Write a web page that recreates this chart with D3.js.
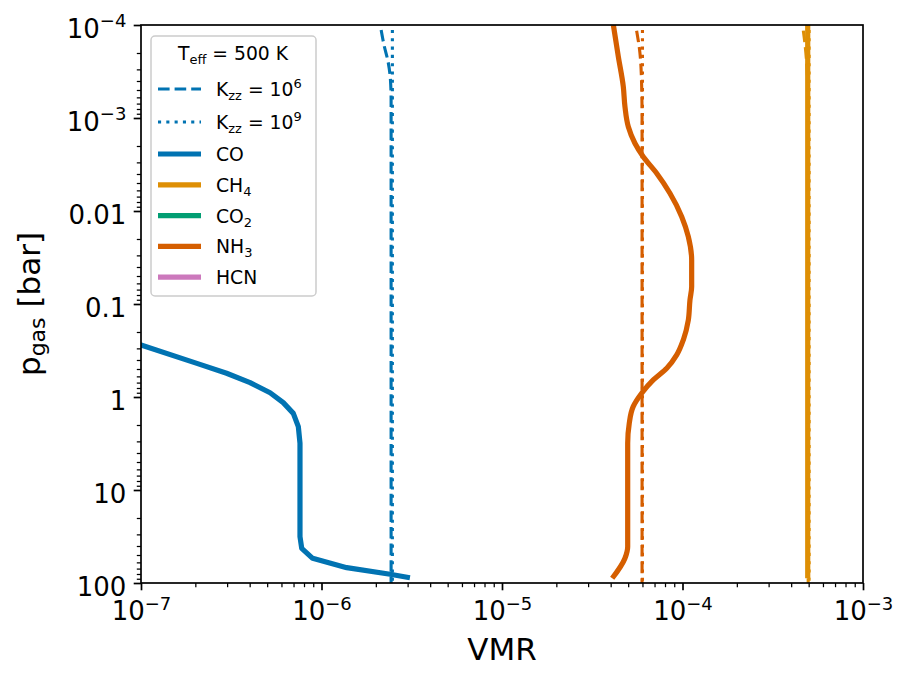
<!DOCTYPE html>
<html>
<head>
<meta charset="utf-8">
<script src="https://cdn.jsdelivr.net/npm/d3@7"></script>
<style>
  body { margin: 0; background: #fff; }
  text { font-family: "DejaVu Sans", sans-serif; fill: #000; }
</style>
</head>
<body>
<svg id="chart" width="909" height="680"></svg>
<script>
// ---- data (pressure in bar, VMR) ----
const pCO   = [0.143, 0.276, 0.435, 0.556, 0.70, 0.90, 1.15, 1.50, 2.08, 3.15, 31.8, 42.4, 54.3, 68.4, 80.5, 87.7];
const vmrCO = [3.56e-8, 1.0e-7, 2.04e-7, 2.98e-7, 4.02e-7, 5.19e-7, 6.14e-7, 6.98e-7, 7.44e-7, 7.60e-7, 7.60e-7, 7.77e-7, 8.93e-7, 1.38e-6, 2.40e-6, 3.09e-6];

const pNH3   = [1.0e-4, 2.19e-4, 4.61e-4, 7.56e-4, 1.24e-3, 1.87e-3, 2.61e-3, 3.93e-3, 6.45e-3, 0.0115, 0.0189, 0.0336, 0.0652, 0.0906, 0.149, 0.244, 0.353, 0.491, 0.656, 0.912, 1.27, 1.92, 3.15, 40.7, 54.2, 89.0];
const vmrNH3 = [4.14e-5, 4.41e-5, 4.70e-5, 4.80e-5, 5.01e-5, 5.45e-5, 6.06e-5, 7.19e-5, 8.52e-5, 9.90e-5, 1.077e-4, 1.124e-4, 1.124e-4, 1.10e-4, 1.077e-4, 1.01e-4, 9.29e-5, 8.18e-5, 6.89e-5, 5.94e-5, 5.33e-5, 5.07e-5, 4.97e-5, 4.97e-5, 4.80e-5, 4.08e-5];

const pCH4   = [1.0e-4, 89.0];
const vmrCH4 = [4.94e-4, 4.94e-4];

// quenched profiles, Kzz = 1e6 (dashed) and 1e9 (dotted)
const pCOk6   = [1.13e-4, 1.64e-4, 2.50e-4, 3.90e-4, 6.4e-4, 100];
const vmrCOk6 = [2.14e-6, 2.22e-6, 2.34e-6, 2.41e-6, 2.43e-6, 2.43e-6];
const pCOk9   = [1.13e-4, 100];
const vmrCOk9 = [2.47e-6, 2.47e-6];

const pNH3k6   = [1.15e-4, 2.0e-4, 4.6e-4, 1.0e-3, 100];
const vmrNH3k6 = [5.57e-5, 5.81e-5, 5.94e-5, 5.97e-5, 5.97e-5];
const pNH3k9   = [1.13e-4, 100];
const vmrNH3k9 = [6.0e-5, 6.0e-5];

const pCH4k6   = [1.15e-4, 1.6e-4, 3.0e-4, 6.0e-4, 100];
const vmrCH4k6 = [4.67e-4, 4.77e-4, 4.90e-4, 4.95e-4, 4.97e-4];
const pCH4k9   = [1.13e-4, 100];
const vmrCH4k9 = [5.03e-4, 5.03e-4];

const species = ["CO", "CH4", "CO2", "NH3", "HCN"];
const colors  = ["#0173B2", "#DE8F05", "#029E73", "#D55E00", "#CC78BC"];

const xTickExp = [-7, -6, -5, -4, -3];
const yTicks = [1e-4, 1e-3, 0.01, 0.1, 1, 10, 100];
const yTickLabels = [["10", "−4"], ["10", "−3"], ["0.01"], ["0.1"], ["1"], ["10"], ["100"]];

// ---- layout ----
const plotL = 141, plotR = 863, plotT = 25, plotB = 583;
const svg = d3.select("#chart");

const x = d3.scaleLog().domain([1e-7, 1e-3]).range([plotL, plotR]);
const y = d3.scaleLog().domain([1e-4, 100]).range([plotT, plotB]);

svg.append("defs").append("clipPath").attr("id", "plotclip")
  .append("rect")
  .attr("x", plotL).attr("y", plotT)
  .attr("width", plotR - plotL).attr("height", plotB - plotT);

const zip = (ps, vs) => ps.map((p, i) => ({ p: p, v: vs[i] }));

const smooth = d3.line()
  .x(d => x(d.v))
  .y(d => y(d.p))
  .curve(d3.curveMonotoneY);
const straight = d3.line()
  .x(d => x(d.v))
  .y(d => y(d.p));

const plot = svg.append("g").attr("clip-path", "url(#plotclip)");

const SOLID_W = 5.2, THIN_W = 3.1;
const DASH = "11.6,5", DOT = "3.1,5.2";

const profiles = [
  { data: zip(pCO, vmrCO), color: colors[0], line: straight },
  { data: zip(pCH4, vmrCH4), color: colors[1], line: straight },
  { data: zip(pNH3, vmrNH3), color: colors[3], line: smooth }
];
const quenched = [
  { data: zip(pCOk6, vmrCOk6), color: colors[0], dash: DASH },
  { data: zip(pCOk9, vmrCOk9), color: colors[0], dash: DOT },
  { data: zip(pCH4k6, vmrCH4k6), color: colors[1], dash: DASH },
  { data: zip(pCH4k9, vmrCH4k9), color: colors[1], dash: DOT },
  { data: zip(pNH3k6, vmrNH3k6), color: colors[3], dash: DASH },
  { data: zip(pNH3k9, vmrNH3k9), color: colors[3], dash: DOT }
];

plot.selectAll("path.profile").data(profiles).enter().append("path")
  .attr("class", "profile")
  .attr("d", d => d.line(d.data))
  .attr("fill", "none")
  .attr("stroke", d => d.color)
  .attr("stroke-width", SOLID_W)
  .attr("stroke-linejoin", "round");

plot.selectAll("path.quench").data(quenched).enter().append("path")
  .attr("class", "quench")
  .attr("d", d => smooth(d.data))
  .attr("fill", "none")
  .attr("stroke", d => d.color)
  .attr("stroke-width", THIN_W)
  .attr("stroke-dasharray", d => d.dash);

// ---- axes ----
const TICK_FONT = 26, SUP_FONT = 18;
const majorX = xTickExp.map(e => Math.pow(10, e));
const minorX = x.ticks().filter(t => !majorX.some(m => Math.abs(m - t) / m < 1e-6));
const minorY = y.ticks().filter(t => !yTicks.some(m => Math.abs(m - t) / m < 1e-6));

function styleAxis(g, w) {
  g.select(".domain").remove();
  g.selectAll(".tick line").attr("stroke", "#000").attr("stroke-width", w);
}

svg.append("g").attr("transform", `translate(0,${plotB})`)
  .call(d3.axisBottom(x).tickValues(minorX).tickSize(4.2).tickFormat(""))
  .call(g => styleAxis(g, 1.25));
svg.append("g").attr("transform", `translate(${plotL},0)`)
  .call(d3.axisLeft(y).tickValues(minorY).tickSize(4.2).tickFormat(""))
  .call(g => styleAxis(g, 1.25));

const xAxis = svg.append("g").attr("transform", `translate(0,${plotB})`)
  .call(d3.axisBottom(x).tickValues(majorX).tickSize(7.3).tickFormat(""))
  .call(g => styleAxis(g, 1.7));

xAxis.selectAll(".tick text")
  .attr("y", 37).attr("dy", null)
  .attr("font-size", TICK_FONT)
  .attr("text-anchor", "middle")
  .attr("fill", "#000")
  .each(function (d, i) {
    const t = d3.select(this);
    t.append("tspan").text("10");
    t.append("tspan").attr("dy", -10.5).attr("font-size", SUP_FONT).text("−" + Math.abs(xTickExp[i]));
  });

const yAxis = svg.append("g").attr("transform", `translate(${plotL},0)`)
  .call(d3.axisLeft(y).tickValues(yTicks).tickSize(7.3).tickFormat(""))
  .call(g => styleAxis(g, 1.7));

yAxis.selectAll(".tick text")
  .attr("x", -14.6).attr("y", 12).attr("dy", null)
  .attr("font-size", TICK_FONT)
  .attr("text-anchor", "end")
  .attr("fill", "#000")
  .each(function (d, i) {
    const t = d3.select(this);
    const lab = yTickLabels[i];
    t.append("tspan").text(lab[0]);
    if (lab.length > 1) t.append("tspan").attr("dy", -10.5).attr("font-size", SUP_FONT).text(lab[1]);
  });

// frame
svg.append("rect")
  .attr("x", plotL).attr("y", plotT)
  .attr("width", plotR - plotL).attr("height", plotB - plotT)
  .attr("fill", "none").attr("stroke", "#000").attr("stroke-width", 1.7);

// axis labels
svg.append("text")
  .attr("x", (plotL + plotR) / 2).attr("y", 660)
  .attr("text-anchor", "middle").attr("font-size", 31)
  .text("VMR");

const yl = svg.append("text")
  .attr("transform", `translate(40,${(plotT + plotB) / 2}) rotate(-90)`)
  .attr("text-anchor", "middle").attr("font-size", 31);
yl.append("tspan").text("p");
yl.append("tspan").attr("dy", 5).attr("font-size", 22).text("gas");
yl.append("tspan").attr("dy", -5).text(" [bar]");

// ---- legend ----
const LEG_FONT = 18.75;
const legend = svg.append("g");
legend.append("rect")
  .attr("x", 151).attr("y", 36)
  .attr("width", 165).attr("height", 260)
  .attr("rx", 4)
  .attr("fill", "#fff").attr("fill-opacity", 0.8)
  .attr("stroke", "#ccc").attr("stroke-width", 1.5);

const title = legend.append("text")
  .attr("x", 233).attr("y", 60)
  .attr("text-anchor", "middle").attr("font-size", LEG_FONT);
title.append("tspan").text("T");
title.append("tspan").attr("dy", 4).attr("font-size", 13).text("eff");
title.append("tspan").attr("dy", -4).text(" = 500 K");

const legendRows = [
  { kind: "k", exp: "6", color: colors[0], dash: DASH, w: THIN_W, yc: 89 },
  { kind: "k", exp: "9", color: colors[0], dash: DOT, w: THIN_W, yc: 122 }
].concat(species.map((s, i) => ({ kind: "s", name: s, color: colors[i], dash: null, w: SOLID_W, yc: 154 + i * 30.8 })));

legendRows.forEach(r => {
  legend.append("line")
    .attr("x1", 158).attr("x2", 201)
    .attr("y1", r.yc).attr("y2", r.yc)
    .attr("stroke", r.color).attr("stroke-width", r.w)
    .attr("stroke-dasharray", r.dash);
  const t = legend.append("text")
    .attr("x", 216).attr("y", r.yc + 7)
    .attr("font-size", LEG_FONT);
  if (r.kind === "k") {
    t.append("tspan").text("K");
    t.append("tspan").attr("dy", 4).attr("font-size", 13).text("zz");
    t.append("tspan").attr("dy", -4).text(" = 10");
    t.append("tspan").attr("dy", -8).attr("font-size", 13).text(r.exp);
  } else {
    // digits in a formula become subscripts
    r.name.split(/(\d+)/).filter(s => s.length).forEach(part => {
      if (/^\d+$/.test(part)) {
        t.append("tspan").attr("dy", 4).attr("font-size", 13).text(part);
      } else {
        t.append("tspan").text(part);
      }
    });
  }
});
</script>
</body>
</html>
